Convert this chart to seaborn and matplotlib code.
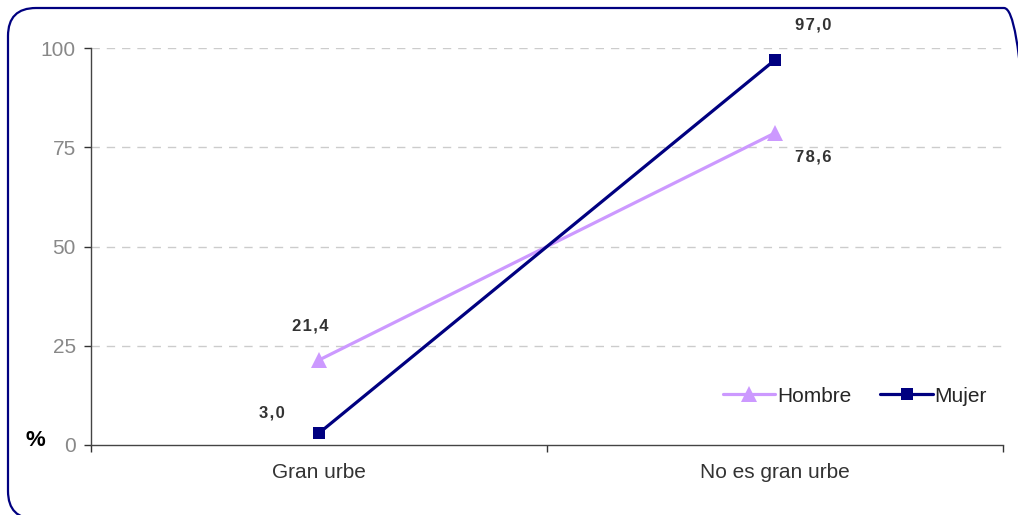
import matplotlib
matplotlib.use("Agg")
import matplotlib.pyplot as plt
from matplotlib.patches import FancyBboxPatch
from matplotlib.transforms import IdentityTransform
from matplotlib.ticker import FixedLocator, NullFormatter
import pandas as pd
import seaborn as sns

categories = ["Gran urbe", "No es gran urbe"]
hombre = [21.4, 78.6]
mujer = [3.0, 97.0]
series_names = ["Hombre", "Mujer"]
y_ticks = [0, 25, 50, 75, 100]

df = pd.DataFrame({
    "zona": categories * 2,
    "valor": hombre + mujer,
    "sexo": [series_names[0]] * len(categories) + [series_names[1]] * len(categories),
})

sns.set_theme(style="white")
plt.rcParams["font.family"] = ["Liberation Sans", "DejaVu Sans"]

W, H = 1018, 515
fig = plt.figure(figsize=(W / 100, H / 100), dpi=100)
ax = fig.add_axes([91 / W, 1 - 445 / H, (1003 - 91) / W, (445 - 48) / H])

palette = {"Hombre": "#CC99FF", "Mujer": "#000080"}
markers = {"Hombre": "^", "Mujer": "s"}
sns.lineplot(data=df, x="zona", y="valor", hue="sexo", style="sexo",
             palette=palette, markers=markers, dashes=False, sort=False,
             linewidth=2.3, markersize=9, markeredgewidth=0, ax=ax)
# the triangle reads smaller than the square at equal size
for line in ax.get_lines():
    if line.get_marker() == "^":
        line.set_markersize(11)

ax.set_xlim(-0.5, 1.5)
ax.set_ylim(0, 100)
ax.set_yticks(y_ticks)
ax.set_yticklabels([str(t) for t in y_ticks])
ax.set_xticks(range(len(categories)))
ax.set_xticklabels(categories)
ax.xaxis.set_minor_locator(FixedLocator([-0.5, 0.5, 1.5]))
ax.xaxis.set_minor_formatter(NullFormatter())
ax.tick_params(axis="x", which="major", length=0, pad=13, labelsize=15, labelcolor="#333333")
ax.tick_params(axis="x", which="minor", length=5, width=1, color="#333333", direction="out", bottom=True)
ax.tick_params(axis="y", length=5, width=1, color="#333333", direction="out", left=True,
               labelsize=15, labelcolor="#888888", pad=6)
ax.set_xlabel("")
ax.set_ylabel("")

for s in ["top", "right"]:
    ax.spines[s].set_visible(False)
for s in ["left", "bottom"]:
    ax.spines[s].set_color("#444444")
    ax.spines[s].set_linewidth(1)

for t in y_ticks[1:]:
    ax.axhline(t, color="#cccccc", lw=1, ls=(0, (6, 5)), zorder=0)

# value labels, offsets given in pixels
label_offsets_px = {
    ("Hombre", 0): (-9, 34), ("Hombre", 1): (38, -24),
    ("Mujer", 0): (-47, 20), ("Mujer", 1): (38, 35),
}
for name, vals in zip(series_names, [hombre, mujer]):
    for i, v in enumerate(vals):
        dx, dy = label_offsets_px[(name, i)]
        txt = f"{v:.1f}".replace(".", ",")
        ax.annotate("\u200a".join(txt), (i, v), xytext=(dx * 0.72, dy * 0.72),
                    textcoords="offset points", ha="center", va="center",
                    fontsize=12, fontweight="bold", color="#333333",
                    annotation_clip=False)

fig.text(35 / W, 1 - 440 / H, "%", ha="center", va="center",
         fontsize=16, fontweight="bold", color="black")

leg = ax.legend(loc="center right", bbox_to_anchor=((987 - 91) / (1003 - 91), (445 - 396) / (445 - 48)),
                ncol=2, frameon=False, fontsize=15, handlelength=2.5, handletextpad=0.1,
                columnspacing=1.4, borderaxespad=0, borderpad=0)
for h in leg.legend_handles:
    h.set_markersize(11 if h.get_marker() == "^" else 9)

# rounded frame around the chart, in pixel coordinates (runs past the right and bottom edges)
left, top, right, bottom = 8, 8, 1032, 519
border = FancyBboxPatch((left, H - bottom), right - left, bottom - top,
                        boxstyle="round,pad=0,rounding_size=28",
                        transform=IdentityTransform(), fill=False,
                        edgecolor="#000080", linewidth=1.6)
fig.patches.append(border)

fig.savefig("out.png", dpi=100)
